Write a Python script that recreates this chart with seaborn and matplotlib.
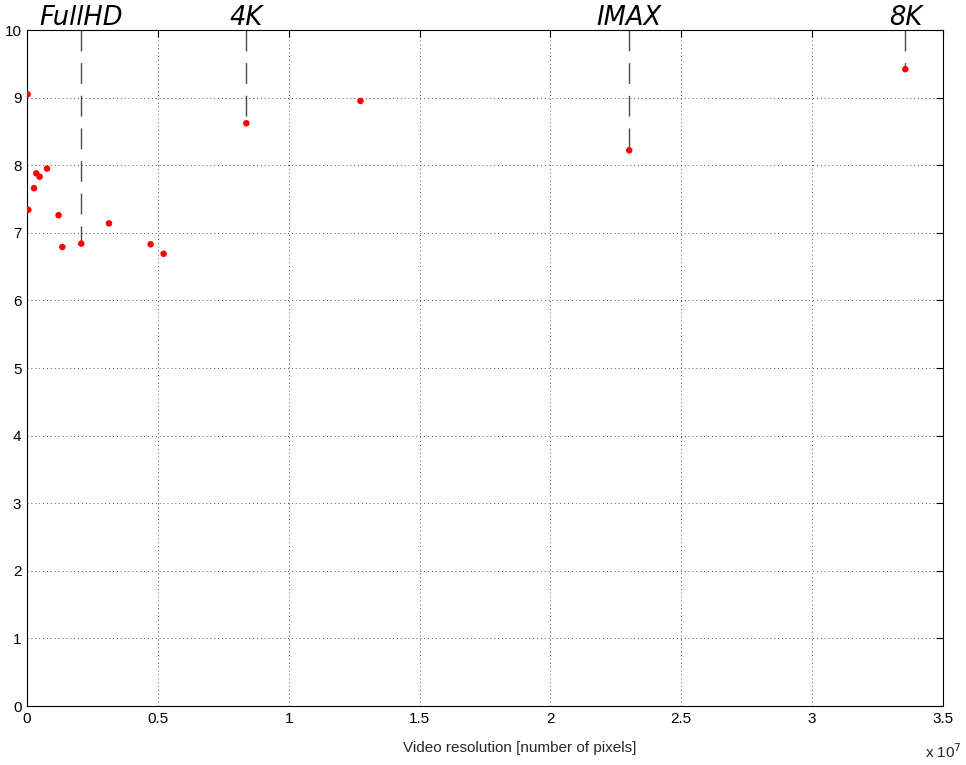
import matplotlib
matplotlib.use("Agg")
import matplotlib.pyplot as plt
import seaborn as sns
import pandas as pd
from matplotlib.ticker import FuncFormatter

# Data
resolution = [25000, 50000, 267000, 355000, 481000, 764000, 1207000, 1349000,
              2073600, 3133000, 4723000, 5220000, 8380000, 12740000, 23010000, 33560000]
score = [9.05, 7.34, 7.66, 7.88, 7.83, 7.95, 7.26, 6.79,
         6.84, 7.14, 6.83, 6.69, 8.62, 8.95, 8.22, 9.42]

marker_names = ["FullHD", "4K", "IMAX", "8K"]
marker_x = [2073600, 8380000, 23010000, 33560000]
marker_y = [6.84, 8.62, 8.22, 9.42]

x_ticks = [0, 0.5e7, 1e7, 1.5e7, 2e7, 2.5e7, 3e7, 3.5e7]
y_ticks = list(range(0, 11))

df = pd.DataFrame({"res": resolution, "score": score})

sns.set_style("white")
plt.rcParams["font.family"] = ["Liberation Sans", "DejaVu Sans"]

fig = plt.figure(figsize=(9.66, 7.65), dpi=100)
ax = fig.add_axes([27 / 966, 1 - 706 / 765, (943 - 27) / 966, (706 - 30) / 765])

# annotation dashed lines
for name, mx, my in zip(marker_names, marker_x, marker_y):
    ax.plot([mx, mx], [10, my], color="#4a4a4a", lw=1.0,
            dashes=(15, 8.5), zorder=2)
    ax.text(mx, 10.07, name, ha="center", va="baseline", fontsize=18.5,
            style="italic", family="DejaVu Sans", color="black",
            clip_on=False)

sns.scatterplot(data=df, x="res", y="score", ax=ax, color="red",
                s=22, edgecolor="none", zorder=3)

ax.set_xlim(0, 3.5e7)
ax.set_ylim(0, 10)
ax.set_xticks(x_ticks)
ax.set_yticks(y_ticks)
ax.xaxis.set_major_formatter(FuncFormatter(lambda v, p: f"{v/1e7:g}"))
ax.grid(True, color="#555555", linestyle=(0, (1, 3)), linewidth=0.7)
ax.tick_params(direction="in", length=5, width=0.8, top=True, right=True,
               labelsize=11, colors="black", pad=4)
for s in ax.spines.values():
    s.set_color("black")
    s.set_linewidth(0.8)
ax.set_xlabel("Video resolution [number of pixels]", fontsize=11)
ax.xaxis.set_label_coords(0.538, -0.052)
ax.set_ylabel("")
fig.text(925 / 966, 1 - 752 / 765, r"x 10$^{7}$", fontsize=11,
         ha="left", va="center")

fig.savefig("out.png", dpi=100)
